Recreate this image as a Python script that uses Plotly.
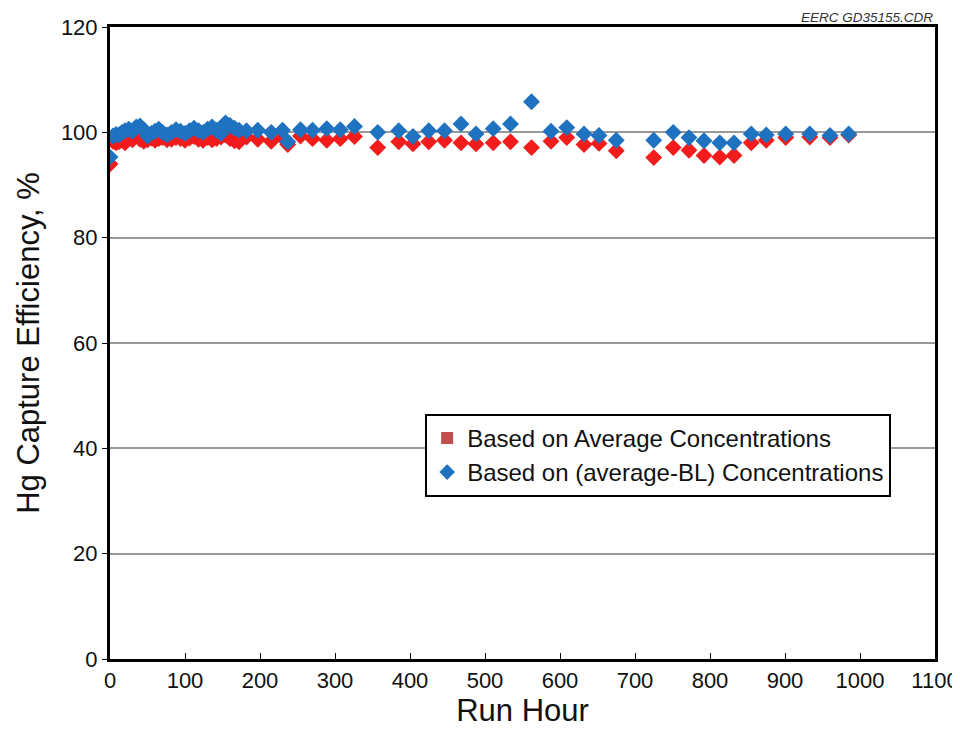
import plotly.graph_objects as go

# run hours and capture efficiencies (%)
hours = [0, 4, 8, 12, 16, 20, 25, 30, 35, 40, 45, 50, 55, 60, 65, 70, 76, 82, 88, 94,
         100, 106, 112, 118, 124, 130, 136, 142, 148, 154, 160, 166, 172,
         182, 197, 215, 230, 237, 254, 270, 289, 307, 326,
         357, 385, 404, 425, 446, 468, 488, 511, 534, 562, 588, 609, 632, 652,
         675, 725, 751, 772, 792, 813, 832, 855, 875, 901, 933, 960, 985]

eff_avg = [94.0, 98.3, 98.0, 98.2, 98.5, 98.0, 98.8, 98.6, 99.5, 98.7, 98.3, 98.6, 98.9, 98.5,
           98.8, 99.0, 98.6, 98.7, 99.0, 98.8, 98.5, 98.9, 99.2, 98.7, 98.5, 99.0, 98.6,
           98.8, 99.1, 99.5, 98.8, 98.4, 98.2,
           99.1, 98.7, 98.3, 99.0, 97.7, 99.3, 98.8, 98.5, 98.8, 99.2,
           97.1, 98.2, 97.8, 98.2, 98.5, 98.0, 97.8, 98.0, 98.2, 97.1, 98.3, 99.0, 97.7, 97.9,
           96.5, 95.2, 97.1, 96.6, 95.6, 95.3, 95.6, 98.0, 98.5, 99.0, 99.1, 99.0, 99.5]

eff_bl = [95.3, 99.3, 99.6, 99.5, 100.0, 100.3, 100.6, 100.2, 101.0, 101.2, 100.5, 99.3, 99.8,
          100.2, 100.6, 100.0, 99.5, 100.0, 100.5, 100.2, 99.8, 100.3, 100.8, 100.3, 100.0,
          100.6, 101.0, 100.4, 99.8, 101.8, 101.3, 100.8, 100.4,
          100.3, 100.4, 100.0, 100.4, 98.2, 100.5, 100.4, 100.7, 100.5, 101.1,
          100.0, 100.3, 99.2, 100.3, 100.3, 101.6, 99.7, 100.7, 101.6, 105.8, 100.2, 100.9,
          99.7, 99.4,
          98.5, 98.5, 100.0, 99.0, 98.4, 98.0, 98.0, 99.7, 99.5, 99.7, 99.7, 99.4, 99.7]

name_avg = "Based on Average Concentrations"
name_bl = "Based on (average-BL) Concentrations"

fig = go.Figure()
fig.add_trace(go.Scatter(x=hours, y=eff_avg, mode="markers", showlegend=False,
                         marker=dict(symbol="diamond", size=13, color="#f21c1c")))
fig.add_trace(go.Scatter(x=hours, y=eff_bl, mode="markers", showlegend=False,
                         marker=dict(symbol="diamond", size=13, color="#1f72c0")))
# legend entries (square for the first series, like the original)
fig.add_trace(go.Scatter(x=[None], y=[None], mode="markers", name=name_avg,
                         marker=dict(symbol="square", size=11, color="#c0504d")))
fig.add_trace(go.Scatter(x=[None], y=[None], mode="markers", name=name_bl,
                         marker=dict(symbol="diamond", size=12, color="#1f72c0")))

# page body has an 8px margin, so margins are shifted to put the frame where the original has it
fig.update_layout(
    width=960, height=732,
    margin=dict(l=102, r=33, t=19, b=81),
    paper_bgcolor="white", plot_bgcolor="white",
    font=dict(family="Liberation Sans, Arial", color="#111111"),
    legend=dict(x=0.382, y=0.388, xanchor="left", yanchor="top",
                bgcolor="white", bordercolor="black", borderwidth=2,
                font=dict(size=24), itemsizing="constant",
                tracegroupgap=0),
    annotations=[dict(text="<i>EERC GD35155.CDR</i>", x=1.0, y=1.0, xref="paper", yref="paper",
                      xanchor="right", yanchor="bottom", yshift=0, showarrow=False,
                      font=dict(size=13.5, color="#333333"))],
)
fig.update_xaxes(range=[0, 1100], dtick=100, tick0=0, showgrid=False, zeroline=False,
                 showline=True, linewidth=3, linecolor="black", mirror=True,
                 ticks="inside", ticklen=6, tickwidth=1, tickcolor="black",
                 tickfont=dict(size=22), automargin=False,
                 title=dict(text="Run Hour", font=dict(size=31), standoff=5))
fig.update_yaxes(range=[0, 120], dtick=20, tick0=0, showgrid=True, gridcolor="#999999",
                 gridwidth=1.5, zeroline=False,
                 showline=True, linewidth=3, linecolor="black", mirror=True,
                 ticks="outside", ticklen=5, tickwidth=1, tickcolor="black",
                 tickfont=dict(size=22), automargin=False,
                 title=dict(text="Hg Capture Efficiency, %", font=dict(size=31), standoff=13))

fig.write_html("out.html")
